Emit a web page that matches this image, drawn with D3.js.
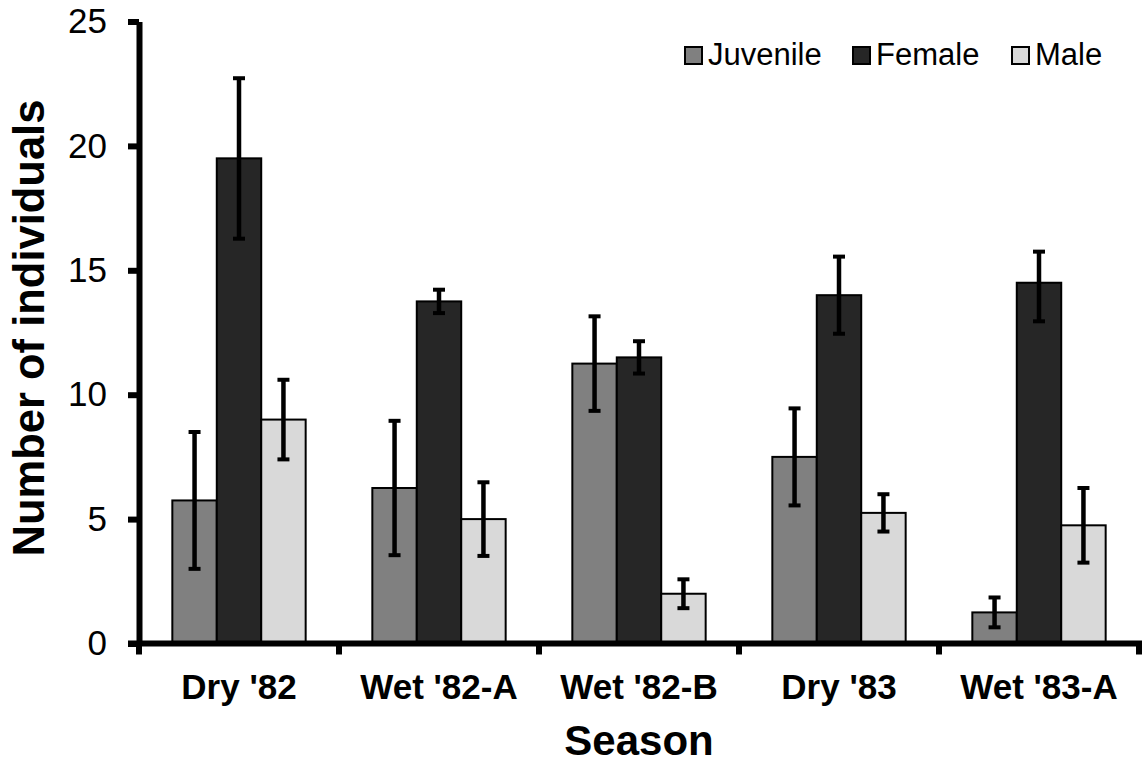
<!DOCTYPE html>
<html>
<head>
<meta charset="utf-8">
<script src="https://cdn.jsdelivr.net/npm/d3@7"></script>
<style>
  html, body { margin: 0; padding: 0; background: #fff; }
  svg { display: block; font-family: "Liberation Sans", Arial, sans-serif; }
</style>
</head>
<body>
<svg id="chart" width="1142" height="763"></svg>
<script>
// Seasons and groups
const seasons = ["Dry '82", "Wet '82-A", "Wet '82-B", "Dry '83", "Wet '83-A"];
const groups = ["Juvenile", "Female", "Male"];

// Mean number of individuals per season
const juvenile = [5.75, 6.25, 11.25, 7.5, 1.25];
const female   = [19.5, 13.75, 11.5, 14.0, 14.5];
const male     = [9.0, 5.0, 2.0, 5.25, 4.75];

// Error bar ends (lower, upper)
const juvenileLow  = [3.0, 3.55, 9.35, 5.55, 0.65];
const juvenileHigh = [8.5, 8.95, 13.15, 9.45, 1.85];
const femaleLow    = [16.27, 13.28, 10.85, 12.45, 12.95];
const femaleHigh   = [22.72, 14.22, 12.15, 15.55, 15.75];
const maleLow      = [7.4, 3.52, 1.42, 4.5, 3.25];
const maleHigh     = [10.6, 6.48, 2.58, 6.0, 6.25];

const yTicks = [0, 5, 10, 15, 20, 25];

const fills = { Juvenile: "#808080", Female: "#262626", Male: "#d9d9d9" };

const values = { Juvenile: juvenile, Female: female, Male: male };
const lows = { Juvenile: juvenileLow, Female: femaleLow, Male: maleLow };
const highs = { Juvenile: juvenileHigh, Female: femaleHigh, Male: maleHigh };

const rows = [];
seasons.forEach((s, i) => {
  groups.forEach(g => rows.push({
    season: s, group: g, value: values[g][i], lo: lows[g][i], hi: highs[g][i]
  }));
});

const svg = d3.select("#chart");
const plot = { left: 139, right: 1139, top: 21.5, bottom: 643.5 };

const x0 = d3.scaleBand().domain(seasons).range([plot.left, plot.right]).padding(0);
const x1 = d3.scaleBand().domain(groups).range([0, x0.bandwidth()])
  .paddingInner(0).paddingOuter(0.75);
const y = d3.scaleLinear().domain([0, 25]).range([plot.bottom, plot.top]);

// Bars
svg.append("g").selectAll("rect").data(rows).join("rect")
  .attr("x", d => x0(d.season) + x1(d.group))
  .attr("y", d => y(d.value))
  .attr("width", x1.bandwidth())
  .attr("height", d => y(0) - y(d.value))
  .attr("fill", d => fills[d.group])
  .attr("stroke", "#000")
  .attr("stroke-width", 2);

// Error bars
const eb = svg.append("g").attr("stroke", "#000");
const cx = d => x0(d.season) + x1(d.group) + x1.bandwidth() / 2;
eb.selectAll("line.v").data(rows).join("line").attr("class", "v")
  .attr("stroke-width", 4.5)
  .attr("x1", cx).attr("x2", cx)
  .attr("y1", d => y(d.lo)).attr("y2", d => y(d.hi));
eb.selectAll("line.top").data(rows).join("line").attr("class", "top")
  .attr("stroke-width", 4)
  .attr("x1", d => cx(d) - 6).attr("x2", d => cx(d) + 6)
  .attr("y1", d => y(d.hi)).attr("y2", d => y(d.hi));
eb.selectAll("line.bot").data(rows).join("line").attr("class", "bot")
  .attr("stroke-width", 4)
  .attr("x1", d => cx(d) - 6).attr("x2", d => cx(d) + 6)
  .attr("y1", d => y(d.lo)).attr("y2", d => y(d.lo));

// Y axis
const yAxis = svg.append("g")
  .attr("transform", `translate(${plot.left},0)`)
  .call(d3.axisLeft(y).tickValues(yTicks).tickSize(11).tickSizeOuter(0).tickPadding(21));
yAxis.select(".domain").attr("stroke", "#000").attr("stroke-width", 6);
yAxis.selectAll(".tick line").attr("stroke", "#000").attr("stroke-width", 6);
yAxis.selectAll(".tick text")
  .attr("font-size", 35).attr("font-family", "Liberation Sans, Arial, sans-serif")
  .attr("fill", "#000");

// X axis: line with ticks at group boundaries
const boundaries = seasons.map(s => x0(s)).concat([x0.range()[1]]);
const xAxis = svg.append("g").attr("transform", `translate(0,${plot.bottom})`);
xAxis.append("line")
  .attr("x1", plot.left - 11).attr("x2", plot.right + 3)
  .attr("stroke", "#000").attr("stroke-width", 6);
xAxis.selectAll("line.tk").data(boundaries).join("line").attr("class", "tk")
  .attr("x1", d => d).attr("x2", d => d).attr("y1", 0).attr("y2", 11)
  .attr("stroke", "#000").attr("stroke-width", 6);
xAxis.selectAll("text").data(seasons).join("text")
  .attr("x", d => x0(d) + x0.bandwidth() / 2)
  .attr("y", 55)
  .attr("text-anchor", "middle")
  .attr("font-size", 35).attr("font-weight", "bold")
  .text(d => d);

// Axis titles
svg.append("text")
  .attr("x", 639).attr("y", 755)
  .attr("text-anchor", "middle")
  .attr("font-size", 42).attr("font-weight", "bold")
  .text("Season");

svg.append("text")
  .attr("transform", "translate(44,328) rotate(-90)")
  .attr("text-anchor", "middle")
  .attr("font-size", 43.5).attr("font-weight", "bold")
  .text("Number of individuals");

// Legend
const legendX = [685, 853, 1012];
const legend = svg.append("g").selectAll("g").data(groups).join("g")
  .attr("transform", (d, i) => `translate(${legendX[i]},47)`);
legend.append("rect")
  .attr("width", 17).attr("height", 17)
  .attr("fill", d => fills[d]).attr("stroke", "#000").attr("stroke-width", 2);
legend.append("text")
  .attr("x", 23).attr("y", 18)
  .attr("font-size", 31)
  .text(d => d);
</script>
</body>
</html>
